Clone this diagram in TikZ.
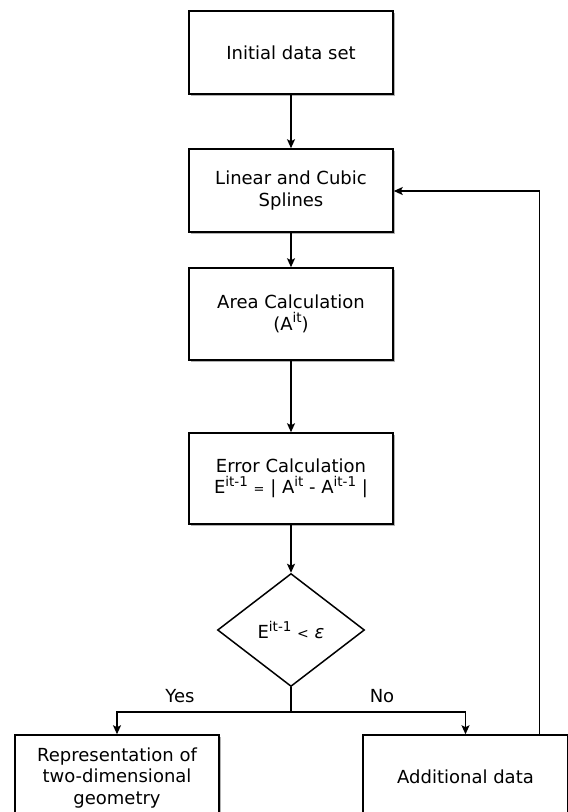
\documentclass[tikz,border=0pt]{standalone}
\usepackage{fontspec}
\setmainfont{DejaVu Sans}
\usetikzlibrary{shapes.geometric,arrows.meta,shadows}
\newcommand\supx[1]{\raisebox{0.42em}{\fontsize{13.5}{13.5}\selectfont #1}}
\begin{document}
\begin{tikzpicture}[x=1pt,y=-1pt,
  box/.style={draw,line width=1.5pt,fill=white,align=center,inner sep=0pt,
    font=\fontsize{18}{21.5}\selectfont,
    drop shadow={shadow xshift=1.8pt,shadow yshift=-1.8pt,fill=black!30,opacity=1}},
  dia/.style={draw,line width=1.5pt,diamond,aspect=1.3,fill=white,inner sep=0pt,
    minimum width=147pt,minimum height=113pt,font=\fontsize{18}{22}\selectfont},
  arr/.style={line width=1.5pt,-{Stealth[length=9pt,width=8pt,inset=2pt]}},
  lbl/.style={font=\fontsize{18}{20}\selectfont}]
\useasboundingbox (0,0) rectangle (568,812);
\node[box,minimum width=204pt,minimum height=83pt] (b1) at (291,52.5) {Initial data set};
\node[box,minimum width=204pt,minimum height=83pt] (b2) at (291,190.5) {Linear and Cubic\\Splines};
\node[box,minimum width=204pt,minimum height=92pt] (b3) at (291,314) {Area Calculation\\(A\supx{it})};
\node[box,minimum width=204pt,minimum height=91pt] (b4) at (291,478.5) {Error Calculation\\E\supx{it-1} {\fontsize{13}{13}\selectfont =} | A\supx{it} - A\supx{it-1} |};
\node[dia] (d) at (291,630) {\raisebox{-3pt}{E\supx{it-1} {\fontsize{14}{14}\selectfont<} \textit{ε}}};
\node[box,minimum width=204pt,minimum height=86pt] (bl) at (117,778) {Representation of\\two-dimensional\\geometry};
\node[box,minimum width=205pt,minimum height=84pt] (br) at (465.5,777) {Additional data};
\coordinate (j) at (291,712);
\draw[arr] (b1) -- (b2);
\draw[arr] (b2) -- (b3);
\draw[arr] (b3) -- (b4);
\draw[arr] (b4) -- (d.north);
\draw[line width=1.5pt] (d.south) -- (j);
\draw[arr] (j) -| (bl.north);
\draw[arr] (j) -| (br.north);
\draw[arr] (br.north -| 539.5,0) |- (b2.east |- 0,191);
\node[lbl] (yes) at (180,696) {Yes};
\node[lbl] (no) at (382,696) {No};
\end{tikzpicture}
\end{document}
